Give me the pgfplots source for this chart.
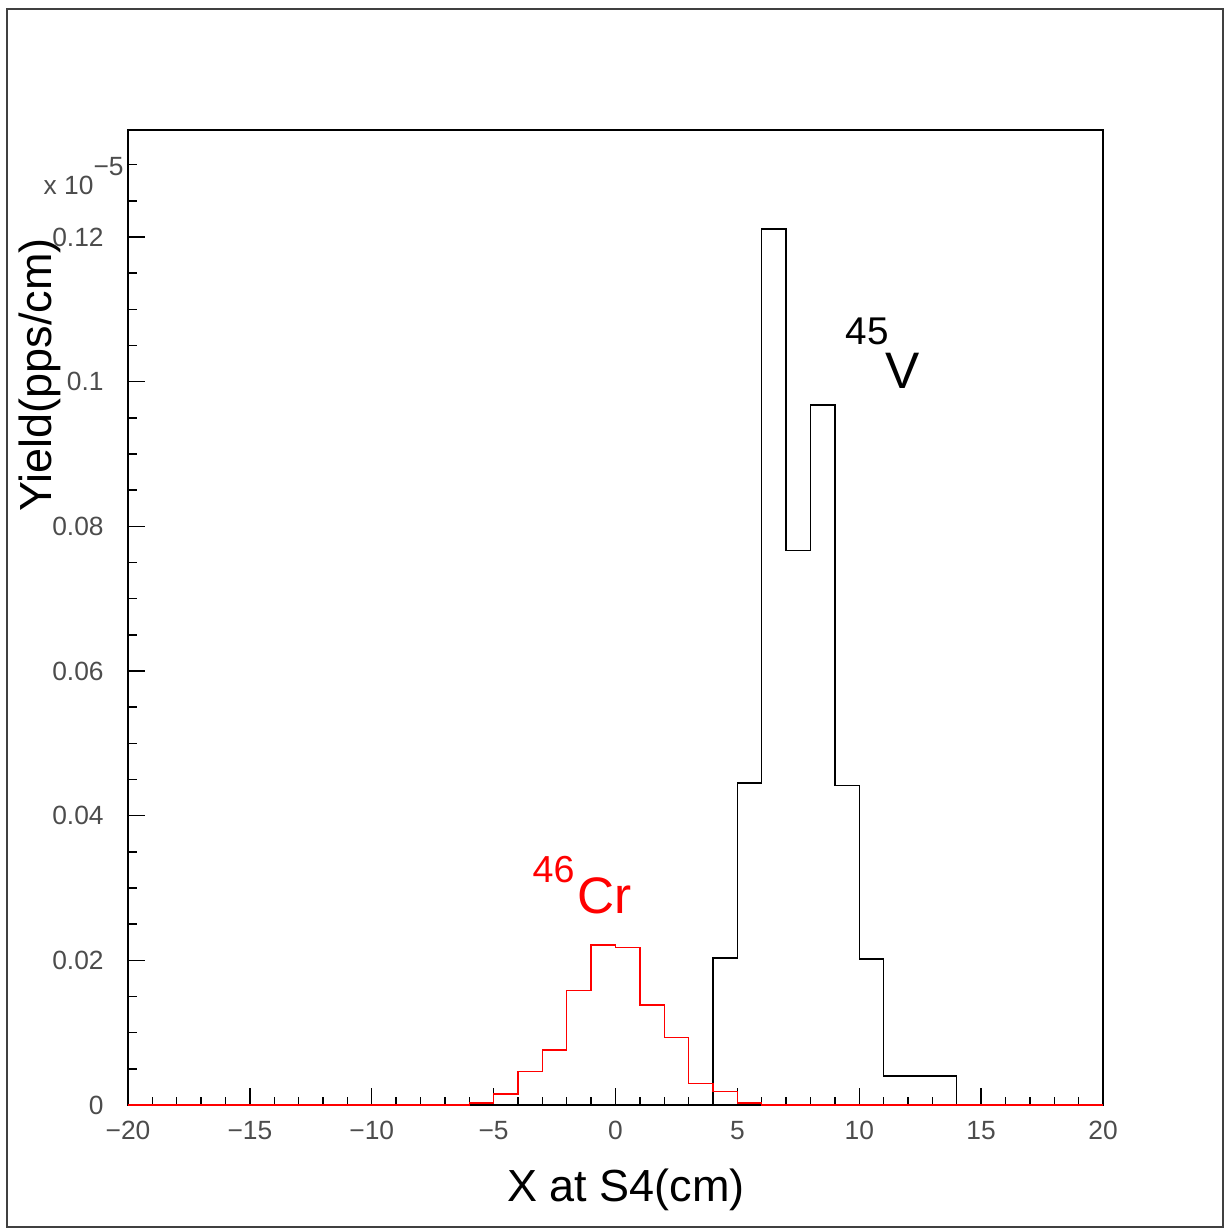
\documentclass[border=0pt]{standalone}
\usepackage{pgfplots}
\pgfplotsset{compat=1.18}
\usepackage{fontspec}
\setmainfont{Liberation Sans}

\begin{document}
\begin{tikzpicture}[x=1mm,y=1mm]
% page frame
\useasboundingbox (0,0) rectangle (123.1,123.0);
\draw[line width=0.6pt, black!75] (0.7,0.3) rectangle (122.3,122.1);

\begin{axis}[
  at={(12.8mm,12.5mm)}, anchor=south west,
  scale only axis, width=97.5mm, height=97.5mm,
  xmin=-20, xmax=20, ymin=0, ymax=0.1348,
  axis line style={line width=0.45pt},
  tick align=inside, tick pos=left,
  major tick length=1.7mm, minor tick length=0.85mm,
  every tick/.style={black, line width=0.4pt},
  xtick={-20,-15,...,20},
  xticklabels={−20,−15,−10,−5,0,5,10,15,20},
  minor x tick num=4,
  ytick={0,0.02,0.04,0.06,0.08,0.1,0.12},
  yticklabels={0,0.02,0.04,0.06,0.08,0.1,0.12},
  minor ytick={0.005,0.01,0.015,0.025,0.03,0.035,0.045,0.05,0.055,0.065,0.07,0.075,0.085,0.09,0.095,0.105,0.11,0.115,0.125,0.13},
  tick label style={font=\fontsize{7.5}{8}\selectfont, text=black!70},
  xticklabel style={yshift=-0.4mm},
  yticklabel style={xshift=-1.2mm},
  clip=false,
]
% 45V
\addplot[const plot mark left, black, line width=0.4pt] coordinates {
  (-20,0) (-6,0.0002) (-5,0) (4,0.0203) (5,0.0445) (6,0.1211) (7,0.0767)
  (8,0.0968) (9,0.0442) (10,0.0202) (11,0.0040) (12,0.0040) (13,0.0040)
  (14,0) (20,0)
};
% 46Cr
\addplot[const plot mark left, red, line width=0.4pt] coordinates {
  (-20,0) (-6,0.0003) (-5,0.0015) (-4,0.0046) (-3,0.0076) (-2,0.0158)
  (-1,0.0221) (0,0.0218) (1,0.0138) (2,0.0093) (3,0.0030) (4,0.0019)
  (5,0.0003) (6,0) (20,0)
};
\node[anchor=base west, inner sep=0pt, font=\fontsize{11}{11}\selectfont] at (axis cs:9.42,0.1051) {45};
\node[anchor=base west, inner sep=0pt, font=\fontsize{14.6}{15}\selectfont] at (axis cs:11.06,0.0991) {V};
\node[anchor=base west, inner sep=0pt, text=red, font=\fontsize{10.7}{11}\selectfont] at (axis cs:-3.43,0.0307) {46};
\node[anchor=base west, inner sep=0pt, text=red, font=\fontsize{14.6}{15}\selectfont] at (axis cs:-1.58,0.0265) {Cr};
\end{axis}

% exponent of the y axis
\node[anchor=base west, inner sep=0pt, text=black!70, font=\fontsize{7.5}{8}\selectfont] at (4.3,103.5)
  {x 10\raisebox{0.75em}{−5}};
% axis titles
\node[rotate=90, inner sep=0pt, font=\fontsize{12.8}{14}\selectfont] at (4.0,85.5) {Yield(pps/cm)};
\node[anchor=base, inner sep=0pt, font=\fontsize{12.8}{14}\selectfont] at (62.6,2.9) {X at S4(cm)};
\end{tikzpicture}
\end{document}
